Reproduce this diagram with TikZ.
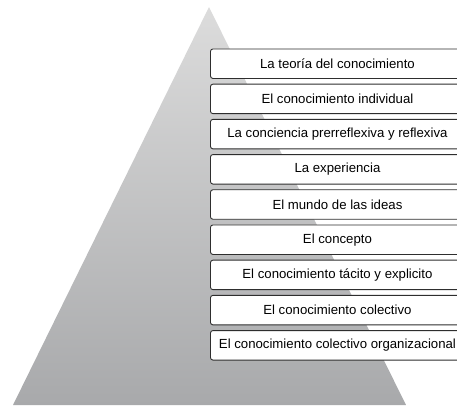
\documentclass[tikz,border=0pt]{standalone}
\usepackage{fontspec}
\setmainfont{Liberation Sans}
\definecolor{pyrtop}{HTML}{DCDCDC}
\definecolor{pyrbot}{HTML}{A8A9AB}
\definecolor{boxline}{HTML}{2E2E2E}
\begin{document}
\begin{tikzpicture}[x=1pt,y=-1pt,
  levelbox/.style={draw=boxline, line width=0.9pt, fill=white, rounded corners=2.5pt,
    minimum width=254pt, minimum height=29.5pt, anchor=north west, inner sep=0pt,
    font=\fontsize{13.2}{15}\selectfont, text=black}]
\useasboundingbox (0,0) rectangle (457,405);
\clip (0,0) rectangle (457,405);
\shade[top color=pyrtop, bottom color=pyrbot] (209,7) -- (406,405) -- (13,405) -- cycle;
\foreach \i/\t/\n in {0/La teoría del conocimiento/b1,
  1/El conocimiento individual/b2,
  2/La conciencia prerreflexiva y reflexiva/b3,
  3/La experiencia/b4,
  4/El mundo de las ideas/b5,
  5/El concepto/b6,
  6/El conocimiento tácito y explicito/b7,
  7/El conocimiento colectivo/b8,
  8/El conocimiento colectivo organizacional/b9}{
  \node[levelbox] (\n) at (210,48.5+35.2*\i) {\t};
}
\end{tikzpicture}
\end{document}
